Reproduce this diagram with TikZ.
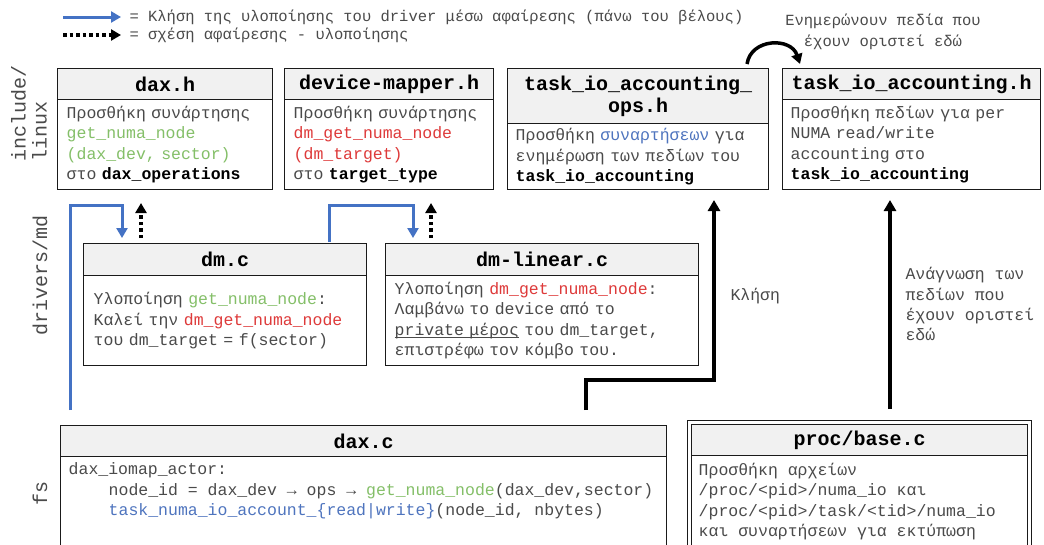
\documentclass[tikz,border=0pt]{standalone}
\usepackage{fontspec}
\setmainfont{Liberation Mono}
\setmonofont{Liberation Mono}
\usetikzlibrary{arrows.meta}

\definecolor{callblue}{HTML}{4472C4}
\definecolor{fngreen}{HTML}{84BF68}
\definecolor{fnred}{HTML}{DE3A3A}
\definecolor{fnblue}{HTML}{4E74BE}
\definecolor{bodygray}{HTML}{4A4A4A}
\definecolor{headfill}{HTML}{F1F1F1}
\definecolor{frameline}{HTML}{1A1A1A}

\newcommand{\greenfn}[1]{\textcolor{fngreen}{#1}}
\newcommand{\redfn}[1]{\textcolor{fnred}{#1}}
\newcommand{\bluefn}[1]{\textcolor{fnblue}{#1}}
\newcommand{\kw}[1]{\textcolor{black}{\bfseries #1}}
% underline drawn just below the baseline
\newcommand{\baseul}[1]{\leavevmode\setbox0\hbox{#1}\rlap{\rule[-3pt]{\wd0}{0.9pt}}\box0\relax}

\tikzset{
  boxhead/.style={draw=frameline, line width=1.4pt, fill=headfill, anchor=north west,
    inner sep=0pt, align=center, text=black,
    font=\fontsize{20}{22}\selectfont\bfseries},
  boxbody/.style={draw=frameline, line width=1.4pt, fill=white, anchor=north west,
    inner ysep=0pt, align=left, text=bodygray,
    font=\fontsize{16.5}{20.3}\selectfont},
  codebody/.style={draw=frameline, line width=1.4pt, fill=white, anchor=north west,
    inner ysep=6pt, text=bodygray,
    font=\fontsize{16.5}{20.5}\selectfont},
  sidelabel/.style={rotate=90, align=left, text=bodygray,
    font=\fontsize{20}{21}\selectfont},
  legendtext/.style={anchor=west, text=bodygray, font=\fontsize{15.5}{21}\selectfont},
  note/.style={text=bodygray, align=left, font=\fontsize{16.5}{20.3}\selectfont},
  callarrow/.style={draw=callblue, line width=3pt, -{Triangle[length=10pt,width=11pt]}},
  abstrarrow/.style={draw=black, line width=3.5pt, dash pattern=on 3.5pt off 3pt,
    -{Triangle[length=10pt,width=11pt]}},
  flowarrow/.style={draw=black, line width=4pt, -{Triangle[length=11pt,width=12pt]}},
}

\begin{document}
\begin{tikzpicture}[x=1pt, y=-1pt]
\path[use as bounding box, clip] (0,0) rectangle (1044,544);
\fill[white] (0,0) rectangle (1044,544);

% ---------- legend ----------
\coordinate (lga) at (63,17);  \coordinate (lgb) at (121,17);
\coordinate (lgc) at (63,35);  \coordinate (lgd) at (121,35);
\draw[callarrow] (lga) -- (lgb);
\draw[abstrarrow] (lgc) -- (lgd);
\node[legendtext] (lgcall) at (126,17) {= Κλήση της υλοποίησης του driver μέσω αφαίρεσης (πάνω του βέλους)};
\node[legendtext] (lgabs) at (126,35) {= σχέση αφαίρεσης - υλοποίησης};

% ---------- layer labels ----------
\node[sidelabel] (lblinc) at (29,113) {include/\\linux};
\node[sidelabel] (lbldrv) at (40,275) {drivers/md};
\node[sidelabel] (lblfs) at (40,493) {fs};

% ---------- include/linux ----------
\node[boxhead, minimum width=215pt, minimum height=31pt] (daxh) at (57,68) {dax.h};
\node[boxbody, minimum width=215pt, minimum height=90pt, text width=197pt, inner xsep=9pt]
  (daxhbody) at (57,99)
  {Προσθήκη συνάρτησης\\\greenfn{get\_numa\_node}\\\greenfn{(dax\_dev, sector)}\\στο \kw{dax\_operations}};

\node[boxhead, minimum width=209pt, minimum height=31pt] (dmh) at (284,68) {device-mapper.h};
\node[boxbody, minimum width=209pt, minimum height=90pt, text width=191pt, inner xsep=9pt]
  (dmhbody) at (284,99)
  {Προσθήκη συνάρτησης\\\redfn{dm\_get\_numa\_node}\\\redfn{(dm\_target)}\\στο \kw{target\_type}};

\node[boxhead, minimum width=261pt, minimum height=55pt] (opsh) at (507,68) {task\_io\_accounting\_\\ops.h};
\node[boxbody, minimum width=261pt, minimum height=66pt, text width=245pt, inner xsep=8pt]
  (opshbody) at (507,123)
  {Προσθήκη \bluefn{συναρτήσεων} για\\ενημέρωση των πεδίων του\\\kw{task\_io\_accounting}};

\node[boxhead, minimum width=258pt, minimum height=31pt] (tioh) at (782,68) {task\_io\_accounting.h};
\node[boxbody, minimum width=258pt, minimum height=90pt, text width=242pt, inner xsep=8pt]
  (tiohbody) at (782,99)
  {Προσθήκη πεδίων για per\\NUMA read/write\\accounting στο\\\kw{task\_io\_accounting}};

% ops header updates the accounting fields
\coordinate (cva) at (747,64);
\coordinate (cvb) at (800,64);
\draw[line width=3.5pt, -{Triangle[length=10pt,width=11pt]}]
  (cva) .. controls (751,38) and (791,37) .. (cvb);
\node[text=bodygray, align=center, font=\fontsize{15.5}{21}\selectfont] (updnote) at (883,32)
  {Ενημερώνουν πεδία που\\έχουν οριστεί εδώ};

% ---------- drivers/md ----------
\node[boxhead, minimum width=283pt, minimum height=32pt] (dmc) at (83,243) {dm.c};
\node[boxbody, minimum width=283pt, minimum height=90pt, text width=263pt, inner xsep=10pt]
  (dmcbody) at (83,275)
  {Υλοποίηση \greenfn{get\_numa\_node}:\\Καλεί την \redfn{dm\_get\_numa\_node}\\του dm\_target = f(sector)};

\node[boxhead, minimum width=313pt, minimum height=32pt] (dmlin) at (385,243) {dm-linear.c};
\node[boxbody, minimum width=313pt, minimum height=90pt, text width=295pt, inner xsep=9pt]
  (dmlinbody) at (385,275)
  {Υλοποίηση \redfn{dm\_get\_numa\_node}:\\Λαμβάνω το device από το\\\baseul{private μέρος} του dm\_target,\\επιστρέφω τον κόμβο του.};

% ---------- fs ----------
\node[boxhead, minimum width=606pt, minimum height=31pt] (daxc) at (60,425) {dax.c};
\node[codebody, minimum width=606pt, inner xsep=8pt] (daxcbody) at (60,456)
  {\parbox[t][110pt][t]{590pt}{\raggedright
   dax\_iomap\_actor:\\
   \hspace*{40pt}node\_id = dax\_dev → ops → \greenfn{get\_numa\_node}(dax\_dev,sector)\\
   \hspace*{40pt}\bluefn{task\_numa\_io\_account\_\{read|write\}}(node\_id, nbytes)}};

\node[draw=frameline, line width=1.4pt, anchor=north west, inner sep=0pt,
  minimum width=344pt, minimum height=160pt] (procframe) at (687,420) {};
\node[boxhead, minimum width=336pt, minimum height=31pt] (proc) at (691,424) {proc/base.c};
\node[codebody, minimum width=336pt, inner xsep=7pt, inner ysep=7pt] (procbody) at (691,455)
  {\parbox[t][110pt][t]{322pt}{\raggedright
   Προσθήκη αρχείων\\
   /proc/<pid>/numa\_io και\\
   /proc/<pid>/task/<tid>/numa\_io\\
   και συναρτήσεων για εκτύπωση}};

% ---------- connectors ----------
% dax.c calls the dm implementation through dax.h
\coordinate (ca1) at (70,410);
\coordinate (ca2) at (122,205);
\coordinate (ca3) at (122,238);
\draw[callarrow] (ca1) |- (ca2) -- (ca3);
% dm.c calls the target implementation through device-mapper.h
\coordinate (cb1) at (329,242);
\coordinate (cb2) at (413,205);
\coordinate (cb3) at (413,238);
\draw[callarrow] (cb1) |- (cb2) -- (cb3);
% implementation -> abstraction
\coordinate (da1) at (141,238);  \coordinate (da2) at (141,203);
\coordinate (db1) at (431,238);  \coordinate (db2) at (431,203);
\draw[abstrarrow] (da1) -- (da2);
\draw[abstrarrow] (db1) -- (db2);
% dax.c calls the accounting ops
\coordinate (fa1) at (586,410);
\coordinate (fa2) at (714,380);
\coordinate (fa3) at (714,200);
\draw[flowarrow] (fa1) |- (fa2) -- (fa3);
\node[note, anchor=west] (calllbl) at (727,296) {Κλήση};
% proc/base.c reads the accounting fields
\coordinate (fb1) at (890,409);
\coordinate (fb2) at (890,200);
\draw[flowarrow] (fb1) -- (fb2);
\node[note, anchor=north west] (readlbl) at (902,264)
  {Ανάγνωση των\\πεδίων που\\έχουν οριστεί\\εδώ};
\end{tikzpicture}
\end{document}
